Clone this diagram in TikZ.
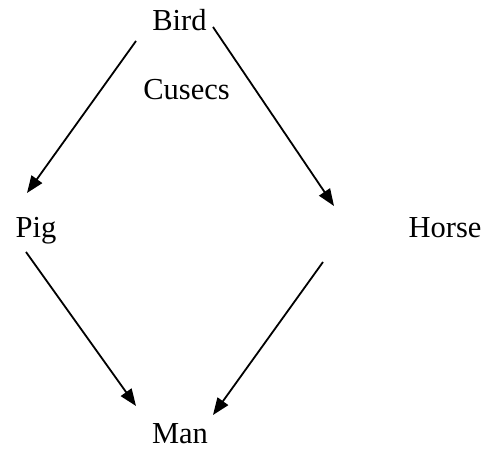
\documentclass[tikz,border=0pt]{standalone}
\usepackage{fontspec}
\setmainfont{Liberation Serif}
\usetikzlibrary{arrows.meta}
\begin{document}
\begin{tikzpicture}[x=1pt,y=1pt,
  lbl/.style={anchor=base,inner sep=0pt,font=\fontsize{30.5}{36}\selectfont},
  arr/.style={line width=1.8pt,-{Triangle[length=17pt,width=13pt]}}]
\useasboundingbox (0,0) rectangle (486,449);
% labels
\node[lbl] (Bird)   at (179.5,418) {Bird};
\node[lbl] (Cusecs) at (186.5,349) {Cusecs};
\node[lbl] (Pig)    at (36,211)    {Pig};
\node[lbl] (Horse)  at (445,211)   {Horse};
\node[lbl] (Man)    at (180,6)     {Man};
% loose ends on the right-hand side
\coordinate (rtip)   at (334,243);
\coordinate (rstart) at (323,187);
% connectors
\draw[arr] ([xshift=-43.5pt,yshift=-10pt]Bird.base) -- ([xshift=-9pt,yshift=45pt]Pig.base);
\draw[arr] ([xshift=33.5pt,yshift=4pt]Bird.base) -- (rtip);
\draw[arr] ([xshift=-10pt,yshift=-14pt]Pig.base) -- ([xshift=-44pt,yshift=37pt]Man.base);
\draw[arr] (rstart) -- ([xshift=33pt,yshift=28pt]Man.base);
\end{tikzpicture}
\end{document}
